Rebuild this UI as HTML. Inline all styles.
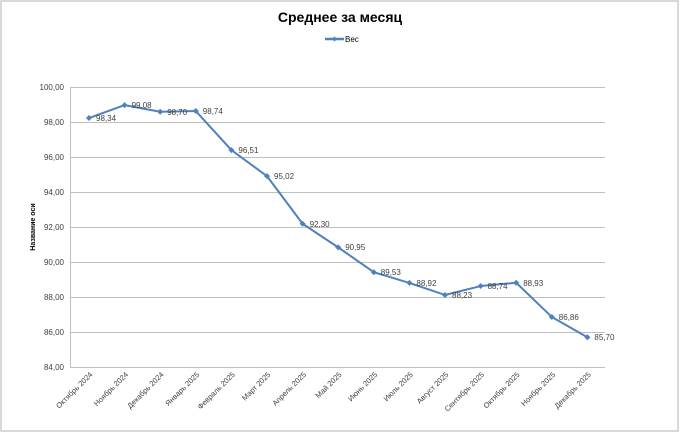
<!DOCTYPE html>
<html><head><meta charset="utf-8"><style>
body{margin:0;background:#fff}
svg{display:block;font-family:"Liberation Sans","DejaVu Sans",sans-serif}
</style></head><body>
<svg width="680" height="434" viewBox="0 0 680 434" xmlns="http://www.w3.org/2000/svg">
<rect x="0" y="0" width="680" height="434" fill="#fff"/>
<rect x="1" y="1" width="677" height="430" fill="none" stroke="#d9d9d9" stroke-width="2"/>
<text x="340" y="22" text-anchor="middle" font-size="14" font-weight="bold" fill="#000">Среднее за месяц</text>
<line x1="325" y1="39" x2="344" y2="39" stroke="#4f81bd" stroke-width="2.5"/>
<path d="M334.5 36.5 L337 39 L334.5 41.5 L332 39 Z" fill="#4f81bd"/>
<text x="345" y="42" font-size="8" fill="#000">Вес</text>
<g stroke="#bfbfbf" stroke-width="1">
<line x1="71" y1="87.5" x2="605" y2="87.5"/>
<line x1="71" y1="122.5" x2="605" y2="122.5"/>
<line x1="71" y1="157.5" x2="605" y2="157.5"/>
<line x1="71" y1="192.5" x2="605" y2="192.5"/>
<line x1="71" y1="227.5" x2="605" y2="227.5"/>
<line x1="71" y1="262.5" x2="605" y2="262.5"/>
<line x1="71" y1="297.5" x2="605" y2="297.5"/>
<line x1="71" y1="332.5" x2="605" y2="332.5"/>
<line x1="71" y1="367.5" x2="605" y2="367.5"/>
<line x1="70.5" y1="87" x2="70.5" y2="368"/>
</g>
<g font-size="8" fill="#404040" text-anchor="end">
<text x="64" y="90">100,00</text><text x="64" y="125">98,00</text><text x="64" y="160">96,00</text>
<text x="64" y="195">94,00</text><text x="64" y="230">92,00</text><text x="64" y="265">90,00</text>
<text x="64" y="300">88,00</text><text x="64" y="335">86,00</text><text x="64" y="370">84,00</text>
</g>
<text transform="translate(35,227) rotate(-90)" text-anchor="middle" font-size="7" font-weight="bold" fill="#000">Название оси</text>
<g id="s"></g>
<polyline fill="none" stroke="#4f81bd" stroke-width="2" stroke-linejoin="round" points="89,118.05 124.6,105.1 160.2,111.75 195.8,111.05 231.4,150.08 267,176.15 302.6,223.75 338.2,247.38 373.8,272.23 409.4,282.9 445,294.98 480.6,286.05 516.2,282.73 551.8,316.95 587.4,337.25"/>
<g fill="#4f81bd">
<path d="M89 115L92 118L89 121L86 118Z"/><path d="M124.6 102.1L127.6 105.1L124.6 108.1L121.6 105.1Z"/>
<path d="M160.2 108.75L163.2 111.75L160.2 114.75L157.2 111.75Z"/><path d="M195.8 108.05L198.8 111.05L195.8 114.05L192.8 111.05Z"/>
<path d="M231.4 147.08L234.4 150.08L231.4 153.08L228.4 150.08Z"/><path d="M267 173.15L270 176.15L267 179.15L264 176.15Z"/>
<path d="M302.6 220.75L305.6 223.75L302.6 226.75L299.6 223.75Z"/><path d="M338.2 244.38L341.2 247.38L338.2 250.38L335.2 247.38Z"/>
<path d="M373.8 269.23L376.8 272.23L373.8 275.23L370.8 272.23Z"/><path d="M409.4 279.9L412.4 282.9L409.4 285.9L406.4 282.9Z"/>
<path d="M445 291.98L448 294.98L445 297.98L442 294.98Z"/><path d="M480.6 283.05L483.6 286.05L480.6 289.05L477.6 286.05Z"/>
<path d="M516.2 279.73L519.2 282.73L516.2 285.73L513.2 282.73Z"/><path d="M551.8 313.95L554.8 316.95L551.8 319.95L548.8 316.95Z"/>
<path d="M587.4 334.25L590.4 337.25L587.4 340.25L584.4 337.25Z"/>
</g>
<g font-size="8" fill="#404040">
<text x="96" y="121">98,34</text><text x="131.6" y="108">99,08</text><text x="167.2" y="115">98,70</text>
<text x="202.8" y="114">98,74</text><text x="238.4" y="153">96,51</text><text x="274" y="179">95,02</text>
<text x="309.6" y="227">92,30</text><text x="345.2" y="250">90,95</text><text x="380.8" y="275">89,53</text>
<text x="416.4" y="286">88,92</text><text x="452" y="298">88,23</text><text x="487.6" y="289">88,74</text>
<text x="523.2" y="286">88,93</text><text x="558.8" y="320">86,86</text><text x="594.4" y="340">85,70</text>
</g>
<g font-size="7.5" fill="#404040" text-anchor="end">
<text transform="translate(93,375) rotate(-45)">Октябрь 2024</text>
<text transform="translate(128.6,375) rotate(-45)">Ноябрь 2024</text>
<text transform="translate(164.2,375) rotate(-45)">Декабрь 2024</text>
<text transform="translate(199.8,375) rotate(-45)">Январь 2025</text>
<text transform="translate(235.4,375) rotate(-45)">Февраль 2025</text>
<text transform="translate(271,375) rotate(-45)">Март 2025</text>
<text transform="translate(306.6,375) rotate(-45)">Апрель 2025</text>
<text transform="translate(342.2,375) rotate(-45)">Май 2025</text>
<text transform="translate(377.8,375) rotate(-45)">Июнь 2025</text>
<text transform="translate(413.4,375) rotate(-45)">Июль 2025</text>
<text transform="translate(449,375) rotate(-45)">Август 2025</text>
<text transform="translate(484.6,375) rotate(-45)">Сентябрь 2025</text>
<text transform="translate(520.2,375) rotate(-45)">Октябрь 2025</text>
<text transform="translate(555.8,375) rotate(-45)">Ноябрь 2025</text>
<text transform="translate(591.4,375) rotate(-45)">Декабрь 2025</text>
</g>
</svg>
</body></html>
